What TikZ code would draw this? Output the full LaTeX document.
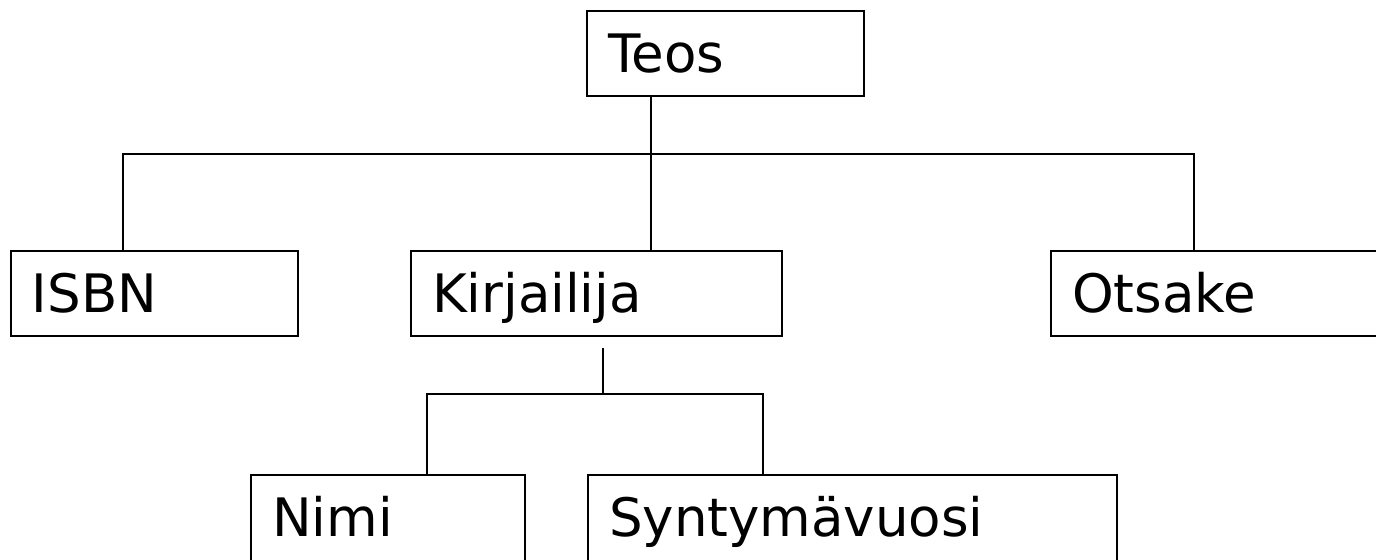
\documentclass[tikz,border=0pt]{standalone}
\usepackage{fontspec}
\setmainfont{DejaVu Sans}
\begin{document}
\begin{tikzpicture}[x=0.5pt, y=-0.5pt, line width=1.1pt,
    field/.style={draw, line width=1.1pt, inner xsep=10.5pt, inner ysep=0pt,
      minimum height=42.5pt, text height=19.3pt, text depth=0pt, align=left,
      text width=#1, font=\fontsize{26.5pt}{32pt}\selectfont},
    lowfield/.style={field=#1, minimum height=46pt, text depth=3.5pt}]
    \clip (0,0) rectangle (1376,559);
    \node [field=117.5pt] (teos) at (725.5,53.5) {Teos};
    \node [field=122.5pt] (isbn) at (154.5,293.5) {ISBN};
    \node [field=164.5pt] (kirj) at (596.5,293.5) {Kirjailija};
    \node [field=153.5pt] (otsake) at (1225.5,293.5) {Otsake};
    \node [lowfield=116pt] (nimi) at (388,521) {Nimi};
    \node [lowfield=243.5pt] (synty) at (852.5,521) {Syntymävuosi};
    % teos -> isbn, kirjailija, otsake
    \coordinate (hub) at (651,154);
    \coordinate (barl) at (123,154);
    \coordinate (barr) at (1194,154);
    \draw (teos.south -| hub) -- (kirj.north -| hub);
    \draw (isbn.north -| barl) -- (barl) -- (barr) -- (otsake.north -| barr);
    % kirjailija -> nimi, syntymavuosi
    \coordinate (khub) at (603,394);
    \coordinate (kbarl) at (427,394);
    \coordinate (kbarr) at (763,394);
    \draw [shorten <=5.5pt] (kirj.south -| khub) -- (khub);
    \draw (nimi.north -| kbarl) -- (kbarl) -- (kbarr) -- (synty.north -| kbarr);
\end{tikzpicture}
\end{document}
